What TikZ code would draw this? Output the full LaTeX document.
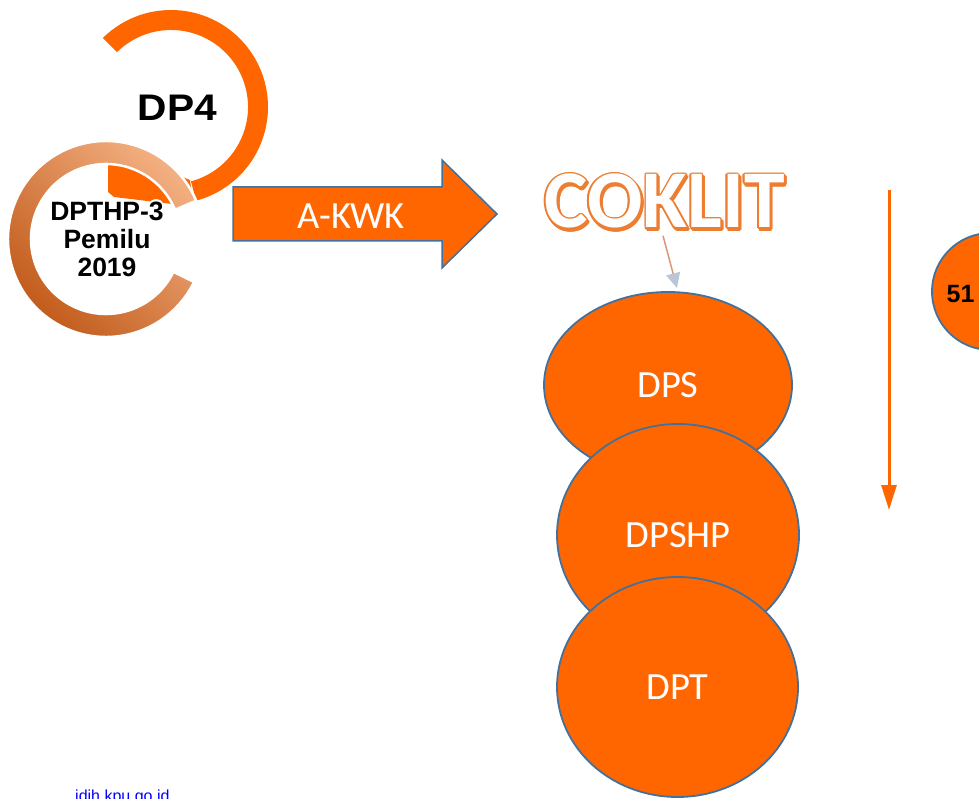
\documentclass[tikz,border=0pt]{standalone}
\usepackage{fontspec}
\setmainfont{Carlito}
\newfontfamily\arialfont{Liberation Sans}
\usetikzlibrary{arrows.meta,calc,shapes.geometric}
\definecolor{org}{RGB}{255,102,0}
\definecolor{edgeblue}{RGB}{65,113,156}
\definecolor{lightorg}{RGB}{244,177,131}
\definecolor{midorg}{RGB}{237,125,49}
\definecolor{darkorg}{RGB}{190,85,20}
\definecolor{linkblue}{RGB}{0,0,255}
\definecolor{tipgrey}{RGB}{185,198,215}
\definecolor{shaftcol}{RGB}{220,150,115}
\begin{document}
\begin{tikzpicture}[x=1pt,y=1pt,
  stagebox/.style={ellipse, draw=edgeblue, line width=1.8pt, fill=org, text=white,
    inner sep=0pt, font=\fontsize{38.5}{40}\selectfont},
  ringtext/.style={font=\arialfont\bfseries\fontsize{26.5}{28}\selectfont, align=center, inner sep=0pt},
  coktext/.style={font=\bfseries\fontsize{82}{90}\selectfont, inner sep=0pt, anchor=base}
]
\useasboundingbox (0,0) rectangle (979,-799);
\clip (0,0) rectangle (979,-799);

% DP4 ring with arrowhead
\coordinate (c4) at (171,-107);
\fill[org] ($(c4)+(134.6:97)$) arc[start angle=134.6,end angle=-75,radius=97]
  -- ($(c4)+(-75:77)$) arc[start angle=-75,end angle=134.6,radius=77] -- cycle;
\fill[org] (108,-155) -- (108,-192) -- (114,-197) -- (172,-204) -- (192,-195) -- (190,-180) -- (140,-160) -- cycle;

% lower ring (DPTHP-3)
\coordinate (c3) at (106,-239);
\shadedraw[top color=lightorg, middle color=midorg, bottom color=darkorg, shading angle=-45,
  draw=white, line width=2.5pt]
  ($(c3)+(23:98)$) arc[start angle=23,end angle=334,radius=98]
  -- ($(c3)+(334:75)$) arc[start angle=334,end angle=23,radius=75] -- cycle;

\node[font=\arialfont\bfseries\fontsize{37}{40}\selectfont, inner sep=0pt, xscale=1.1] (dp4) at (177.5,-107.5) {DP4};

\foreach \a in {0,30,...,330}
  \node[ringtext, text=white] (glow\a) at ($(107,-239)+(\a:1.3)$) {DPTHP-3\\Pemilu\\2019};
\node[ringtext, text=black] (dpthp) at (107,-239) {DPTHP-3\\Pemilu\\2019};

% big arrow A-KWK
\draw[fill=org, draw=edgeblue, line width=1.5pt] (233,-187) -- (442,-187) -- (442,-160) -- (497,-214)
  -- (442,-268) -- (442,-241) -- (233,-241) -- cycle;
\node[text=white, inner sep=0pt, font=\fontsize{38.5}{40}\selectfont] (akwk) at (351,-216.5) {A-KWK};

% COKLIT outlined text
\foreach \a in {0,30,...,330}{
  \node[coktext, text=midorg] (cokshadow\a) at ($(666,-230)+(\a:1.6)$) {COKLIT};
  \node[coktext, text=midorg] (cokline\a) at ($(664.5,-228)+(\a:1.5)$) {COKLIT};
}
\node[coktext, text=white] (coklit) at (664.5,-228) {COKLIT};

% stages
\node[stagebox, minimum width=248pt, minimum height=186pt] (dps) at (668,-385) {DPS};
\node[stagebox, minimum width=242pt, minimum height=222pt] (dpshp) at (678,-535) {DPSHP};
\node[stagebox, minimum width=241pt, minimum height=220pt] (dpt) at (677.5,-687) {DPT};

\draw[shaftcol, line width=1.5pt, -{Triangle[width=14pt,length=15pt,color=tipgrey,fill=tipgrey]}]
  ($(coklit.south)+(-1.5,-7)$) -- ($(dps.north)+(9,3)$);

% vertical arrow
\coordinate (vtop) at (889,-190);
\coordinate (vbot) at (889,-510);
\draw[org, line width=3pt, -{Triangle[width=15pt,length=25pt]}] (vtop) -- (vbot);

% 51 circle
\node[circle, draw=edgeblue, line width=1.8pt, fill=org, minimum size=117pt] (c51) at (990.5,-291.5) {};
\node[font=\arialfont\bfseries\fontsize{25}{28}\selectfont, inner sep=0pt] (n51) at (960.5,-294) {51};

% footer link
\node[font=\arialfont\fontsize{16}{18}\selectfont, text=linkblue, inner sep=0pt, anchor=base west] (link) at (75,-801) {idih.kpu.go.id};
\end{tikzpicture}
\end{document}
